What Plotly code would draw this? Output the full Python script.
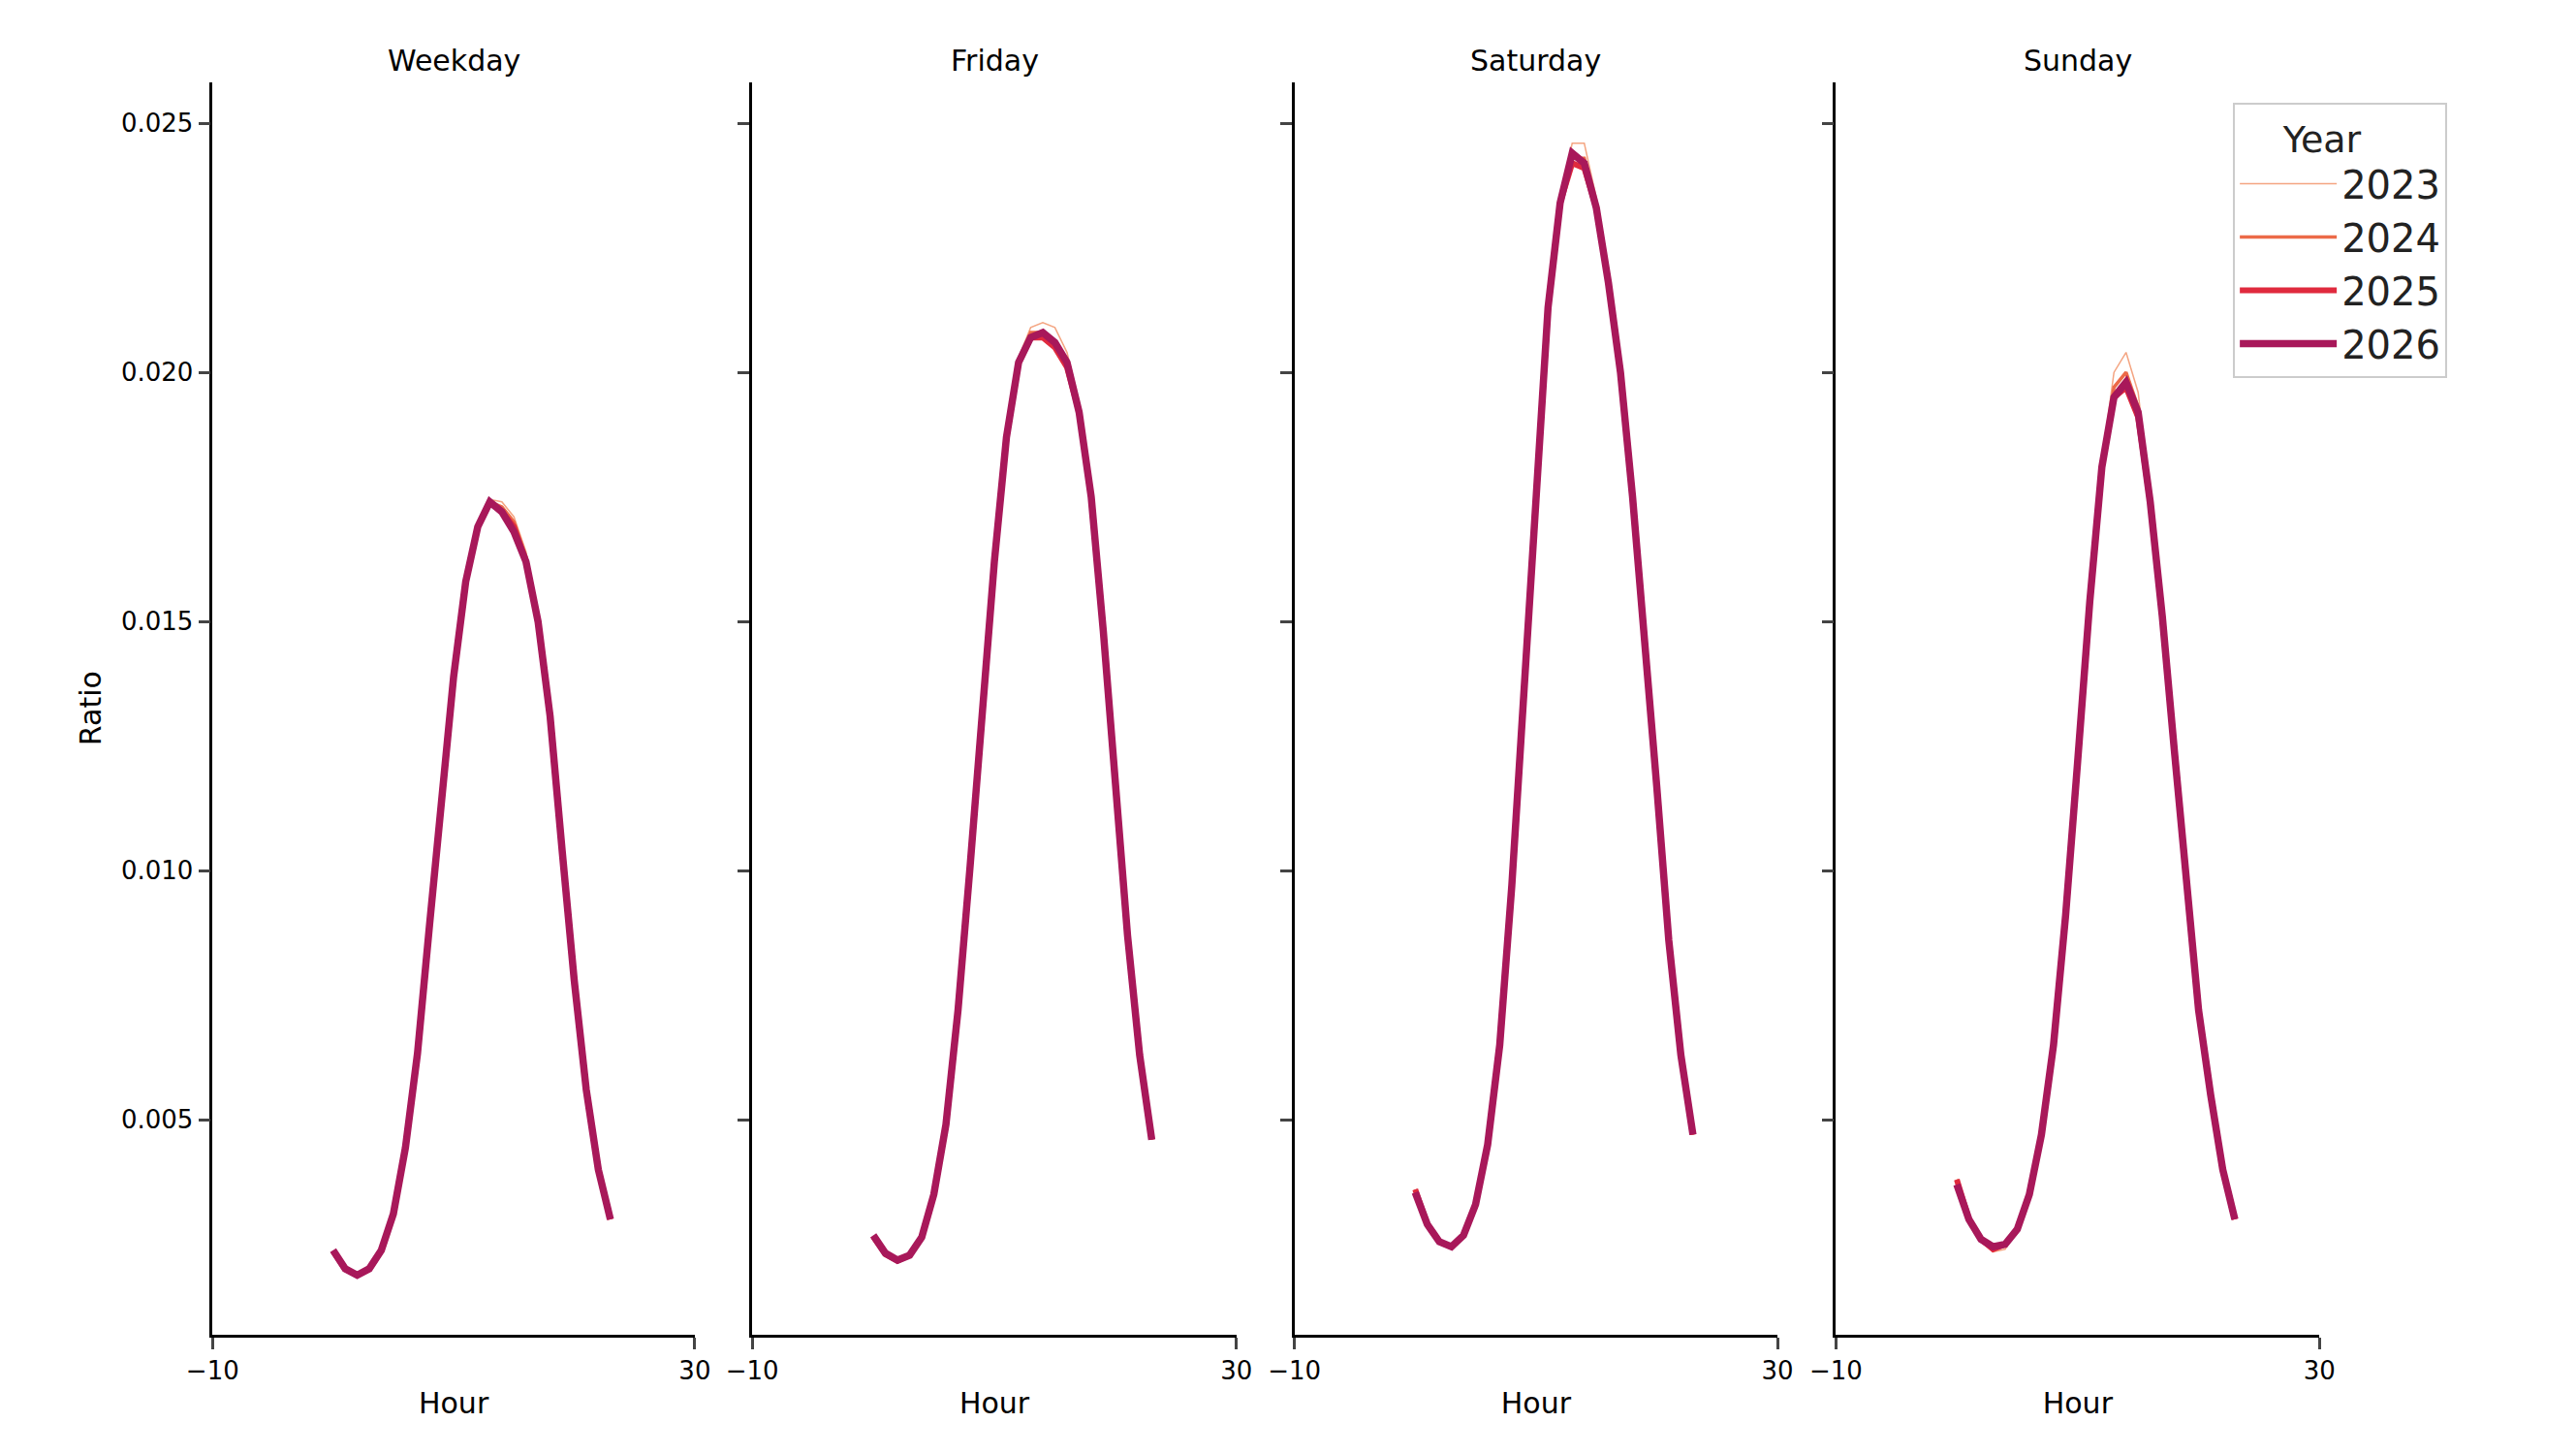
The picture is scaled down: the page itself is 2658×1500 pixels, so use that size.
import plotly.graph_objects as go
from plotly.subplots import make_subplots

hours = list(range(24))
days = ['Weekday', 'Friday', 'Saturday', 'Sunday']
years = ['2023', '2024', '2025', '2026']

# 2026 (main line)
weekday_2026 = [0.00238, 0.00201, 0.00188, 0.00201, 0.00238, 0.00311, 0.00444, 0.00633, 0.00891, 0.0114, 0.0139, 0.0158,
                0.0169, 0.0174, 0.0172, 0.0168, 0.0162, 0.0150, 0.0131, 0.0104, 0.0078, 0.0056, 0.0040, 0.0030]
friday_2026 = [0.00268, 0.00232, 0.00218, 0.00228, 0.00264, 0.0035, 0.0049, 0.0072, 0.0101, 0.0131, 0.0162, 0.0187,
               0.0202, 0.0207, 0.0208, 0.0206, 0.0202, 0.0192, 0.0175, 0.0148, 0.0117, 0.0087, 0.0063, 0.0046]
saturday_2026 = [0.00354, 0.0029, 0.00255, 0.00245, 0.00268, 0.0033, 0.0045, 0.0065, 0.0097, 0.0137, 0.0177, 0.0213,
                 0.0234, 0.0244, 0.0242, 0.0233, 0.0218, 0.0200, 0.0175, 0.0147, 0.0117, 0.0086, 0.0063, 0.0047]
sunday_2026 = [0.0037, 0.0030, 0.0026, 0.00245, 0.0025, 0.0028, 0.0035, 0.0047, 0.0065, 0.0091, 0.0122, 0.0154,
               0.0181, 0.0195, 0.0198, 0.0192, 0.0174, 0.0151, 0.0124, 0.0097, 0.0072, 0.0055, 0.0040, 0.0030]

# 2025
weekday_2025 = [0.00236, 0.00200, 0.00188, 0.00200, 0.00237, 0.00311, 0.00444, 0.00633, 0.00891, 0.0114, 0.0139, 0.0158,
                0.0169, 0.0174, 0.0172, 0.0169, 0.0162, 0.0150, 0.0131, 0.0104, 0.0078, 0.0056, 0.0040, 0.0030]
friday_2025 = [0.00265, 0.00230, 0.00217, 0.00228, 0.00264, 0.0035, 0.0049, 0.0072, 0.0101, 0.0131, 0.0162, 0.0187,
               0.0202, 0.0207, 0.0207, 0.0205, 0.0201, 0.0192, 0.0175, 0.0148, 0.0117, 0.0087, 0.0063, 0.0046]
saturday_2025 = [0.00360, 0.0029, 0.00255, 0.00245, 0.00268, 0.0033, 0.0045, 0.0065, 0.0097, 0.0137, 0.0177, 0.0213,
                 0.0234, 0.0242, 0.0241, 0.0233, 0.0218, 0.0200, 0.0175, 0.0147, 0.0117, 0.0086, 0.0063, 0.0047]
sunday_2025 = [0.0038, 0.0030, 0.0026, 0.00240, 0.0025, 0.0028, 0.0035, 0.0047, 0.0065, 0.0091, 0.0122, 0.0154,
               0.0181, 0.0195, 0.0197, 0.0191, 0.0174, 0.0151, 0.0124, 0.0097, 0.0072, 0.0055, 0.0040, 0.0030]

# 2024
weekday_2024 = [0.00235, 0.00200, 0.00188, 0.00200, 0.00237, 0.00311, 0.00444, 0.00633, 0.00891, 0.0114, 0.0139, 0.0158,
                0.0169, 0.0174, 0.0173, 0.0170, 0.0163, 0.0150, 0.0131, 0.0104, 0.0078, 0.0056, 0.0040, 0.0030]
friday_2024 = [0.00265, 0.00230, 0.00217, 0.00228, 0.00264, 0.0035, 0.0049, 0.0072, 0.0101, 0.0131, 0.0162, 0.0187,
               0.0202, 0.0208, 0.0208, 0.0206, 0.0202, 0.0193, 0.0175, 0.0148, 0.0117, 0.0087, 0.0063, 0.0046]
saturday_2024 = [0.00360, 0.0029, 0.00255, 0.00245, 0.00268, 0.0033, 0.0045, 0.0065, 0.0097, 0.0137, 0.0177, 0.0213,
                 0.0234, 0.0243, 0.0243, 0.0234, 0.0218, 0.0200, 0.0175, 0.0147, 0.0117, 0.0086, 0.0063, 0.0047]
sunday_2024 = [0.0038, 0.0030, 0.0026, 0.00238, 0.0025, 0.0028, 0.0035, 0.0047, 0.0065, 0.0091, 0.0122, 0.0154,
               0.0181, 0.0197, 0.0200, 0.0193, 0.0174, 0.0151, 0.0124, 0.0097, 0.0072, 0.0055, 0.0040, 0.0030]

# 2023
weekday_2023 = [0.00235, 0.00200, 0.00188, 0.00200, 0.00237, 0.00311, 0.00444, 0.00633, 0.00891, 0.0114, 0.0139, 0.0158,
                0.0169, 0.01745, 0.0174, 0.0171, 0.0164, 0.0151, 0.0131, 0.0104, 0.0078, 0.0056, 0.0040, 0.0030]
friday_2023 = [0.00265, 0.00230, 0.00217, 0.00228, 0.00264, 0.0035, 0.0049, 0.0072, 0.0101, 0.0131, 0.0162, 0.0187,
               0.0203, 0.0209, 0.0210, 0.0209, 0.0204, 0.0194, 0.0176, 0.0148, 0.0117, 0.0087, 0.0063, 0.0046]
saturday_2023 = [0.00360, 0.0029, 0.00255, 0.00245, 0.00268, 0.0033, 0.0045, 0.0065, 0.0097, 0.0137, 0.0177, 0.0213,
                 0.0235, 0.0246, 0.0246, 0.0235, 0.0219, 0.0200, 0.0175, 0.0147, 0.0117, 0.0086, 0.0063, 0.0047]
sunday_2023 = [0.0038, 0.0030, 0.0026, 0.00235, 0.0024, 0.0028, 0.0035, 0.0047, 0.0065, 0.0091, 0.0122, 0.0154,
               0.0182, 0.0200, 0.0204, 0.0196, 0.0175, 0.0151, 0.0124, 0.0097, 0.0072, 0.0055, 0.0040, 0.0030]

data = {
    '2023': [weekday_2023, friday_2023, saturday_2023, sunday_2023],
    '2024': [weekday_2024, friday_2024, saturday_2024, sunday_2024],
    '2025': [weekday_2025, friday_2025, saturday_2025, sunday_2025],
    '2026': [weekday_2026, friday_2026, saturday_2026, sunday_2026],
}
colors = {'2023': '#f4a582', '2024': '#ec6a48', '2025': '#e02a3e', '2026': '#a8185a'}
widths = {'2023': 1.5, '2024': 3.5, '2025': 6, '2026': 7.5}

fig = make_subplots(rows=1, cols=4)
font = 'DejaVu Sans'

for y in years:
    for i, d in enumerate(days):
        fig.add_trace(go.Scatter(x=hours, y=data[y][i], mode='lines', name=y,
                                 line=dict(color=colors[y], width=widths[y]),
                                 showlegend=(i == 0), legendgroup=y), row=1, col=i + 1)

domains = [[0.0795, 0.2667], [0.289, 0.477], [0.4995, 0.687], [0.7097, 0.8974]]
for i in range(4):
    n = '' if i == 0 else str(i + 1)
    fig.layout['xaxis' + n].update(domain=domains[i], range=[-10, 30], tickvals=[-10, 30],
                                   showline=True, linecolor='black', linewidth=2.5, ticks='outside',
                                   ticklen=12, tickwidth=2.5, showgrid=False, zeroline=False,
                                   automargin=False,
                                   tickfont=dict(size=26, color='black'),
                                   title=dict(text='Hour', font=dict(size=30, color='black'), standoff=10))
    fig.layout['yaxis' + n].update(domain=[0.0875, 0.949], range=[0.000688, 0.02583],
                                   tickvals=[0.005, 0.010, 0.015, 0.020, 0.025], tickformat='.3f',
                                   showticklabels=(i == 0), automargin=False,
                                   showline=True, linecolor='black', linewidth=2.5, ticks='outside',
                                   ticklen=12, tickwidth=2.5, showgrid=False, zeroline=False,
                                   tickfont=dict(size=26, color='black'))
    fig.add_annotation(text=days[i], x=sum(domains[i]) / 2, y=0.951, xref='paper', yref='paper',
                       xanchor='center', yanchor='bottom', showarrow=False,
                       font=dict(size=30, color='black', family=font))

fig.layout.yaxis.title = dict(text='Ratio', font=dict(size=30, color='black'), standoff=12)

fig.update_layout(
    width=2658, height=1500,
    margin=dict(l=0, r=0, t=0, b=0),
    plot_bgcolor='white', paper_bgcolor='white',
    font=dict(family=font, color='black'),
    legend=dict(x=0.947, y=0.935, xanchor='right', yanchor='top',
                bordercolor='#cccccc', borderwidth=2, bgcolor='white',
                font=dict(size=40, color='#222222'),
                title=dict(text='Year   ', font=dict(size=38, color='#222222'), side='top center'),
                itemwidth=100, tracegroupgap=0),
)

fig.write_html("out.html")
